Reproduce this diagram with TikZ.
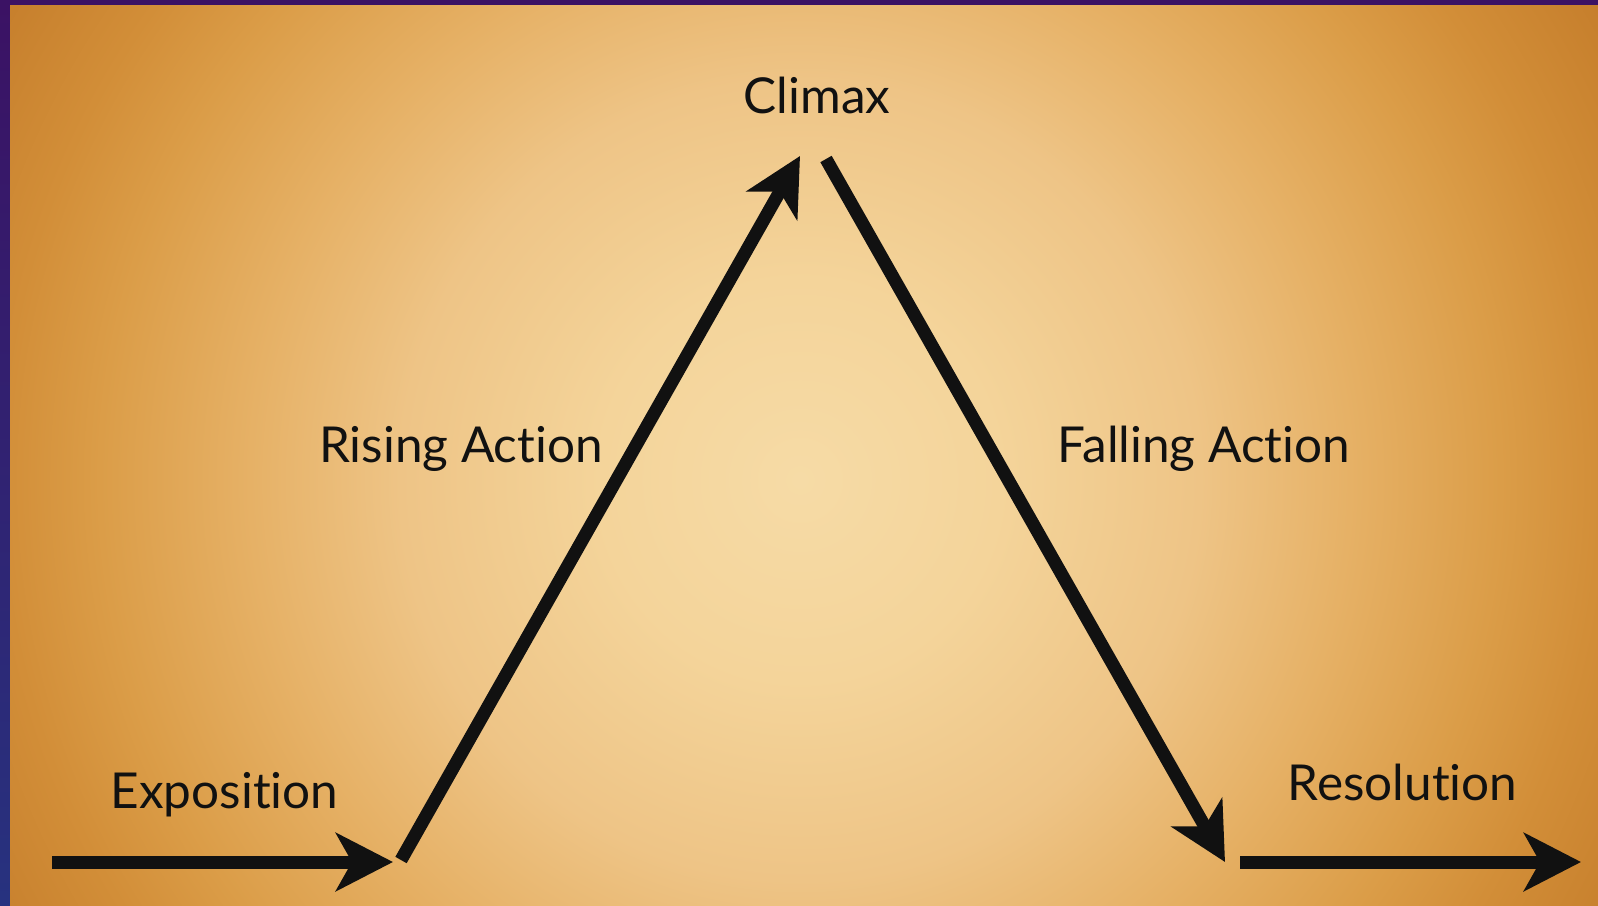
\documentclass[tikz,border=0pt]{standalone}
\usepackage{fontspec}
\setmainfont{Lato}[Ligatures={NoCommon,NoContextual}]
\usetikzlibrary{arrows.meta}
\definecolor{pc0}{HTML}{F6DBA6}
\definecolor{pc1}{HTML}{F4D49A}
\definecolor{pc2}{HTML}{EEC486}
\definecolor{pc3}{HTML}{E6B166}
\definecolor{pc4}{HTML}{DB9D48}
\definecolor{pc5}{HTML}{D28E38}
\definecolor{pc6}{HTML}{C47C2A}
\definecolor{bordtop}{HTML}{3B1264}
\definecolor{bordbot}{HTML}{27327F}
\definecolor{ink}{HTML}{111111}
\pgfdeclareradialshading{parch}{\pgfpoint{0bp}{0bp}}{color(0bp)=(pc0); color(5bp)=(pc1); color(10bp)=(pc2); color(13.75bp)=(pc3); color(17.5bp)=(pc4); color(20bp)=(pc5); color(23.75bp)=(pc6); color(50bp)=(pc6)}
\begin{document}
\begin{tikzpicture}[x=1pt,y=-1pt,
  arr/.style={draw=ink, line width=13pt, line cap=butt, -{Stealth[length=57pt,width=58pt,inset=16pt]}},
  lbl/.style={font=\fontsize{49.5}{56}\selectfont, anchor=base, inner sep=0pt, text=ink}]
\useasboundingbox (0,0) rectangle (1598,905);
\shade[top color=bordtop, bottom color=bordbot] (0,0) rectangle (10,905);
\fill[bordtop] (10,0) rectangle (1598,5);
\begin{scope}
  \clip (10,5) rectangle (1598,905);
  \shade[shading=parch] (-200,-520) rectangle (1800,1480);
\end{scope}
% labels
\node[lbl] (climax) at (817,113) {Climax};
\node[lbl] (rising) at (461,462) {Rising Action};
\node[lbl] (falling) at (1204,462) {Falling Action};
\node[lbl] (expo) at (224.5,808) {Exposition};
\node[lbl] (reso) at (1402.5,800) {Resolution};
% path points
\coordinate (e0) at (52,862);
\coordinate (e1) at (393,862);
\coordinate (r0) at (401,860);
\coordinate (r1) at (800,156);
\coordinate (f0) at (826,159);
\coordinate (f1) at (1225,862);
\coordinate (s0) at (1240,862);
\coordinate (s1) at (1581,862);
\draw[arr] (e0) -- (e1);
\draw[arr] (r0) -- (r1);
\draw[arr] (f0) -- (f1);
\draw[arr] (s0) -- (s1);
\end{tikzpicture}
\end{document}
